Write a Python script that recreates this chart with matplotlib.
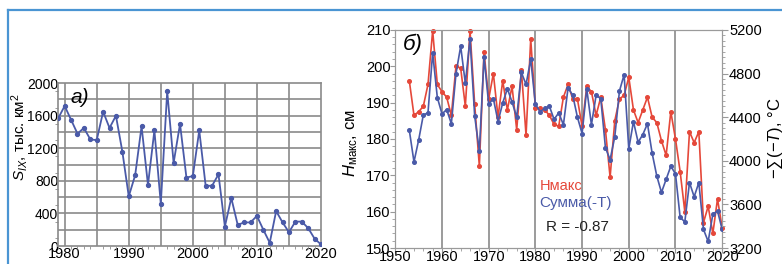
import matplotlib
matplotlib.use('Agg')
import matplotlib.pyplot as plt
from matplotlib.ticker import MultipleLocator, FuncFormatter
from matplotlib.lines import Line2D

plt.rcParams['font.family'] = ['Liberation Sans', 'DejaVu Sans']
plt.rcParams['mathtext.fontset'] = 'custom'
plt.rcParams['mathtext.rm'] = 'Liberation Sans'
plt.rcParams['mathtext.it'] = 'Liberation Sans:italic'

# panel a: ice area, thousand km2
years_a = list(range(1979, 2021))
area = [1570, 1720, 1550, 1380, 1450, 1310, 1300, 1650, 1450, 1600,
        1160, 610, 870, 1470, 750, 1420, 520, 1900, 1020, 1500,
        840, 860, 1420, 740, 740, 880, 240, 590, 260, 290,
        290, 370, 200, 40, 430, 290, 170, 300, 300, 220,
        90, 20]

# panel b: max water level (cm) and sum of negative temperatures
years_b = list(range(1953, 2021))
h_max = [196, 186.5, 187.5, 189, 195, 209.8, 195, 193, 191.5, 186.5,
         200, 199.5, 189, 209.8, 189.5, 172.5, 204, 191, 198, 186,
         196, 188, 194.5, 182.5, 199, 181, 207.5, 188.5, 188.5, 188,
         186.5, 184, 183.5, 191.5, 195, 191, 191, 183.5, 194.5, 193,
         186.5, 191.5, 182.5, 169.5, 185, 191, 192, 197, 188, 184.5,
         188, 191.5, 186, 184.5, 179.5, 175.5, 187.5, 180, 171, 160,
         182, 179, 182, 157, 161.5, 154, 163.5, 155.5]
sum_t = [4280, 3990, 4190, 4420, 4440, 4990, 4580, 4430, 4470, 4340,
         4800, 5050, 4710, 5120, 4410, 4090, 4950, 4520, 4570, 4360,
         4530, 4660, 4540, 4400, 4810, 4700, 4930, 4520, 4450, 4480,
         4500, 4380, 4440, 4330, 4670, 4600, 4400, 4250, 4660, 4330,
         4600, 4570, 4120, 4010, 4220, 4640, 4790, 4110, 4360, 4170,
         4240, 4340, 4070, 3860, 3710, 3830, 3950, 3880, 3480, 3440,
         3800, 3670, 3800, 3370, 3260, 3510, 3540, 3370]

blue = '#4a5aa8'
red = '#e5483a'
grid_c = '#8a8a8a'
tick_fs = 10.5

fig = plt.figure(figsize=(7.82, 2.64), dpi=100)

# ---- panel a ----
ax = fig.add_axes([0.0745, 0.068, 0.336, 0.617])
ax.plot(years_a, area, color=blue, lw=1.3, marker='o', ms=2.8, zorder=3)
ax.set_xlim(1979, 2020)
ax.set_ylim(0, 2000)
ax.xaxis.set_major_locator(MultipleLocator(5))
ax.xaxis.set_minor_locator(MultipleLocator(1))
ax.yaxis.set_major_locator(MultipleLocator(200))
ax.yaxis.set_minor_locator(MultipleLocator(100))
ax.xaxis.set_major_formatter(FuncFormatter(lambda v, p: '%d' % v if v % 10 == 0 else ''))
ax.yaxis.set_major_formatter(FuncFormatter(lambda v, p: '%d' % v if v % 400 == 0 else ''))
ax.tick_params(which='both', direction='out', labelsize=10, pad=0, color=grid_c)
ax.tick_params(which='major', length=0)
ax.tick_params(which='minor', length=2.5)
ax.tick_params(axis='x', pad=1, labelsize=tick_fs)
for yr in range(1980, 2020, 5):
    ax.axvline(yr, color=grid_c, lw=1.2, zorder=1)
for v in range(200, 2000, 200):
    ax.axhline(v, color=grid_c, lw=1.2, zorder=1)
for s in ax.spines.values():
    s.set_color(grid_c)
    s.set_linewidth(1.2)
ax.set_ylabel(r'$S_{IX}$, тыс. км$^2$', fontsize=11, va='center')
ax.yaxis.set_label_coords(-0.148, 0.669)
ax.text(1982.4, 1830, 'a)', fontsize=15, style='italic', ha='center', va='center')

# ---- panel b ----
bx = fig.add_axes([0.5055, 0.0606, 0.418, 0.826])
bx.plot(years_b, h_max, color=red, lw=1.2, marker='o', ms=2.6, zorder=3, clip_on=False)
bx.set_xlim(1950, 2020)
bx.set_ylim(150, 210)
bx.xaxis.set_major_locator(MultipleLocator(10))
bx.xaxis.set_minor_locator(MultipleLocator(2))
bx.yaxis.set_major_locator(MultipleLocator(10))
bx.yaxis.set_minor_locator(MultipleLocator(2))
for yr in range(1960, 2020, 10):
    bx.axvline(yr, color=grid_c, lw=1.2, zorder=1)
bx.tick_params(which='both', direction='out', labelsize=tick_fs, pad=0, color='#999999')
bx.tick_params(which='major', length=3.5)
bx.tick_params(which='minor', length=2)
bx.tick_params(axis='x', pad=-2)
bx.set_ylabel(r'$H_{\mathrm{макс}}$, см', fontsize=12, va='center')
bx.yaxis.set_label_coords(-0.138, 0.48)
bx.text(1953.7, 206.1, 'б)', fontsize=16, style='italic', ha='center', va='center')

b2 = bx.twinx()
b2.plot(years_b, sum_t, color=blue, lw=1.2, marker='o', ms=2.6, zorder=3)
b2.set_ylim(3200, 5200)
b2.yaxis.set_major_locator(MultipleLocator(400))
b2.yaxis.set_minor_locator(MultipleLocator(50))
b2.tick_params(which='both', direction='out', labelsize=tick_fs, pad=1, color='#999999')
b2.tick_params(which='major', length=4)
b2.tick_params(which='minor', length=2)
b2.set_ylabel(r'$-\sum(-T)$, °C', fontsize=12, va='center')
b2.yaxis.set_label_coords(1.165, 0.505)
for a_ in (bx, b2):
    for s in a_.spines.values():
        s.set_color('#9a9a9a')

bx.text(1980.9, 167.1, 'Нмакс', color=red, fontsize=10.5, va='center')
bx.text(1980.9, 162.4, 'Сумма(-Т)', color=blue, fontsize=11, va='center')
bx.text(1982.2, 155.8, 'R = -0.87', color='#222222', fontsize=11, va='center')

# blue frame of the figure box
frame_c = '#4a95d3'
fig.add_artist(Line2D([0.0102, 1.0], [0.962, 0.962], color=frame_c, lw=1.6))
fig.add_artist(Line2D([0.0102, 0.0102], [0.0, 0.962], color=frame_c, lw=1.6))

fig.savefig('out.png', dpi=100)
